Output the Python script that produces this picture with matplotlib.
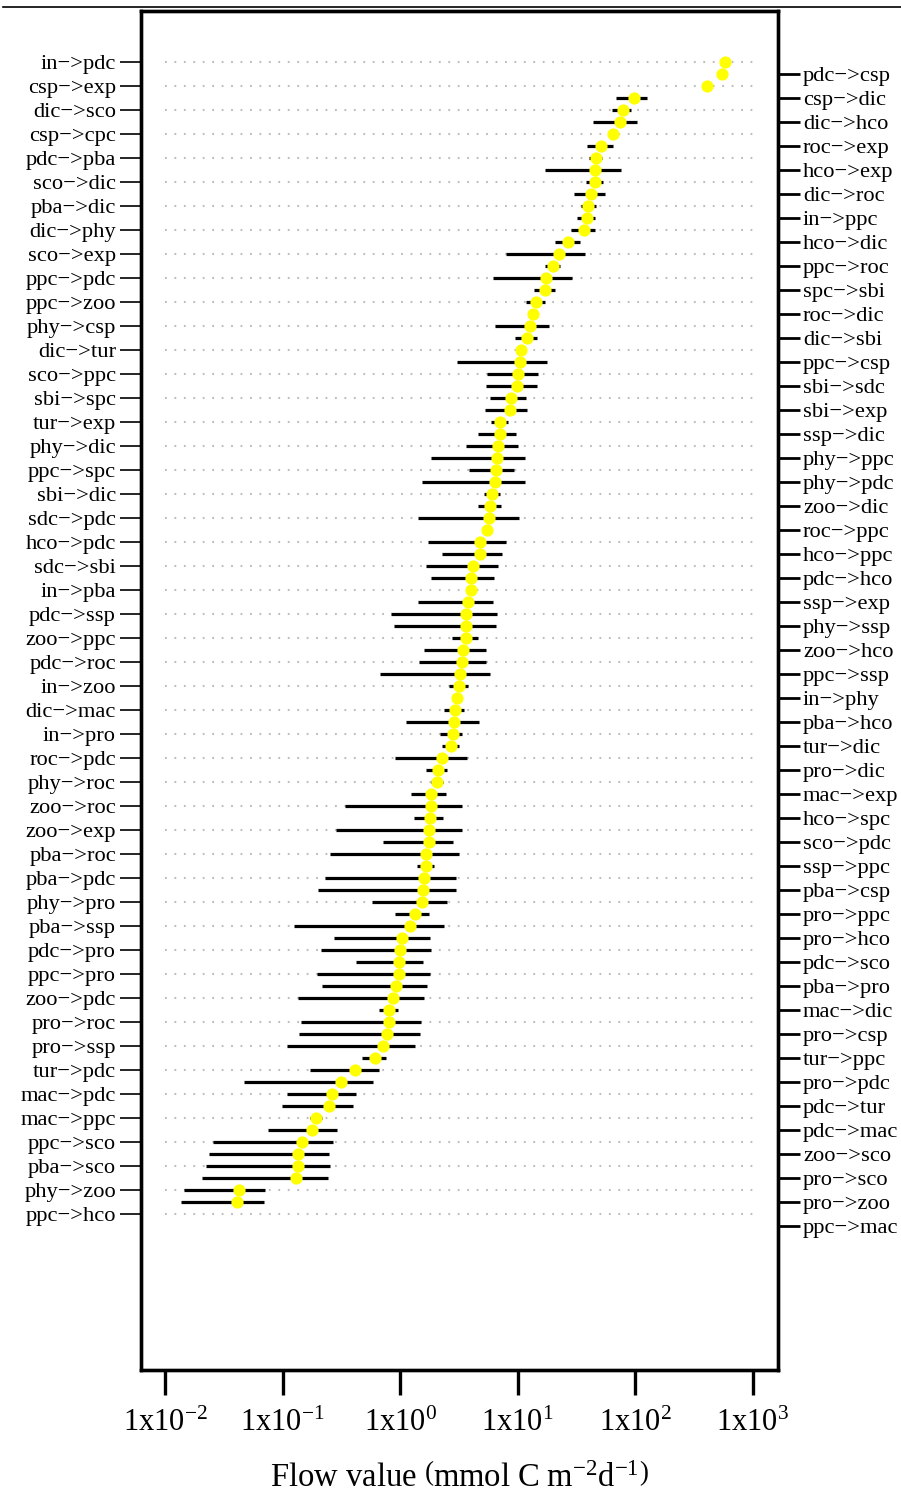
import numpy as np
import matplotlib
matplotlib.use("Agg")
import matplotlib.pyplot as plt
from matplotlib.lines import Line2D
from matplotlib.ticker import FixedLocator, FuncFormatter, NullLocator

plt.rcParams['font.family'] = ['Liberation Serif', 'DejaVu Serif']
plt.rcParams['mathtext.fontset'] = 'custom'
plt.rcParams['mathtext.rm'] = 'Liberation Serif'
plt.rcParams['mathtext.it'] = 'Liberation Serif:italic'
plt.rcParams['lines.scale_dashes'] = False

# flows in plotted order (top to bottom); even rows labelled left, odd rows right
flows = [
    "in->pdc", "pdc->csp", "csp->exp", "csp->dic", "dic->sco", "dic->hco",
    "csp->cpc", "roc->exp", "pdc->pba", "hco->exp", "sco->dic", "dic->roc",
    "pba->dic", "in->ppc", "dic->phy", "hco->dic", "sco->exp", "ppc->roc",
    "ppc->pdc", "spc->sbi", "ppc->zoo", "roc->dic", "phy->csp", "dic->sbi",
    "dic->tur", "ppc->csp", "sco->ppc", "sbi->sdc", "sbi->spc", "sbi->exp",
    "tur->exp", "ssp->dic", "phy->dic", "phy->ppc", "ppc->spc", "phy->pdc",
    "sbi->dic", "zoo->dic", "sdc->pdc", "roc->ppc", "hco->pdc", "hco->ppc",
    "sdc->sbi", "pdc->hco", "in->pba", "ssp->exp", "pdc->ssp", "phy->ssp",
    "zoo->ppc", "zoo->hco", "pdc->roc", "ppc->ssp", "in->zoo", "in->phy",
    "dic->mac", "pba->hco", "in->pro", "tur->dic", "roc->pdc", "pro->dic",
    "phy->roc", "mac->exp", "zoo->roc", "hco->spc", "zoo->exp", "sco->pdc",
    "pba->roc", "ssp->ppc", "pba->pdc", "pba->csp", "phy->pro", "pro->ppc",
    "pba->ssp", "pro->hco", "pdc->pro", "pdc->sco", "ppc->pro", "pba->pro",
    "zoo->pdc", "mac->dic", "pro->roc", "pro->csp", "pro->ssp", "tur->ppc",
    "tur->pdc", "pro->pdc", "mac->pdc", "pdc->tur", "mac->ppc", "pdc->mac",
    "ppc->sco", "zoo->sco", "pba->sco", "pro->sco", "phy->zoo", "pro->zoo",
    "ppc->hco", "ppc->mac",
]

nan = np.nan
flow_mean = [
    573, 550, 410, 97, 78, 73.4, 64, 51.3, 46, 45.4, 45, 42.3, 39.8, 38.5,
    36.6, 27, 22.5, 20, 17.3, 17.1, 14.3, 13.4, 12.6, 11.9, 10.6, 10.4, 10.1,
    9.9, 8.75, 8.55, 7.06, 7.0, 6.78, 6.62, 6.57, 6.41, 6.07, 5.83, 5.69, 5.51,
    4.81, 4.73, 4.17, 4.04, 4.0, 3.78, 3.66, 3.63, 3.6, 3.44, 3.36, 3.22, 3.17,
    3.03, 2.91, 2.88, 2.79, 2.73, 2.27, 2.08, 2.06, 1.84, 1.83, 1.8, 1.77,
    1.76, 1.66, 1.65, 1.58, 1.56, 1.52, 1.33, 1.21, 1.03, 1.0, 0.98, 0.97,
    0.93, 0.87, 0.81, 0.81, 0.78, 0.71, 0.61, 0.414, 0.313, 0.262, 0.246,
    0.192, 0.178, 0.145, 0.135, 0.135, 0.129, 0.0424, 0.041, nan, nan,
]
flow_low = [
    nan, nan, nan, 69, 63.6, 44, nan, 38.5, 40, 17, 38, 30.2, 34.4, 31.8,
    28.1, 20.6, 8.0, 17, 6.2, 13.8, 11.8, nan, 6.4, 9.4, nan, 3.07, 5.5,
    5.4, 5.8, 5.3, 5.97, 4.62, 3.6, 1.83, 3.85, 1.52, 5.17, 4.58, 1.43, nan,
    1.74, 2.25, 1.65, 1.84, nan, 1.42, 0.83, 0.88, 2.77, 1.6, 1.44, 0.67, 2.62,
    nan, 2.36, 1.11, 2.2, 2.29, 0.91, 1.66, 1.82, 1.23, 0.342, 1.31, 0.284,
    0.71, 0.252, 1.38, 0.229, 0.2, 0.574, 0.906, 0.126, 0.275, 0.213, 0.417,
    0.198, 0.218, 0.134, 0.657, 0.144, 0.138, 0.11, 0.473, 0.17, 0.0474,
    0.109, 0.0998, 0.171, 0.0755, 0.0258, 0.0235, 0.0224, 0.0205, 0.0144,
    0.0137, nan, nan,
]
flow_high = [
    nan, nan, nan, 126, 91.8, 103, nan, 64.7, 52.5, 75, 52.9, 55.5, 46, 45.4,
    45.4, 33.6, 37.2, 22.7, 28.8, 20.9, 16.9, nan, 18.5, 14.6, nan, 17.8, 14.9,
    14.5, 11.7, 12.0, 8.28, 9.57, 10.0, 11.6, 9.33, 11.6, 7.06, 7.22, 10.2, nan,
    7.96, 7.29, 6.78, 6.31, nan, 6.21, 6.67, 6.47, 4.55, 5.33, 5.42, 5.82, 3.78,
    nan, 3.49, 4.7, 3.36, 3.16, 3.69, 2.5, 2.31, 2.47, 3.36, 2.32, 3.33,
    2.84, 3.15, 1.93, 3.0, 2.98, 2.52, 1.76, 2.36, 1.81, 1.83, 1.56,
    1.8, 1.69, 1.6, 0.957, 1.51, 1.46, 1.34, 0.76, 0.662, 0.593,
    0.42, 0.397, 0.216, 0.29, 0.267, 0.25, 0.252, 0.242, 0.0703,
    0.0701, nan, nan,
]

x_ticks = [1e-2, 1e-1, 1e0, 1e1, 1e2, 1e3]

rows = np.arange(len(flows))
labels = [f.replace("->", "\u2212>") for f in flows]

fig = plt.figure(figsize=(9.01, 14.99), dpi=100)
ax = fig.add_axes([141 / 901, 1 - 1370 / 1499, 637 / 901, 1359 / 1499])

# grey dotted guide lines on the left-labelled rows
ax.hlines(rows[0::2], x_ticks[0], x_ticks[-1], colors='#bdbdbd',
          linestyles=[(0, (1.3, 5.5))], linewidth=1.5, zorder=1)

# range bars and mean points
ax.hlines(rows, flow_low, flow_high, colors='black', linewidth=2.3, zorder=2)
ax.plot(flow_mean, rows, 'o', color='#ffff00', markersize=8.8,
        markeredgewidth=0, zorder=3)

ax.set_xscale('log')
ax.set_xlim(10 ** -2.204, 10 ** 3.213)
ax.set_ylim(len(flows) - 1 + 12, -4.25)
ax.xaxis.set_major_locator(FixedLocator(x_ticks))
ax.xaxis.set_minor_locator(NullLocator())
ax.xaxis.set_major_formatter(
    FuncFormatter(lambda v, p: r"$\mathrm{1x10^{%d}}$" % round(np.log10(v))))
ax.tick_params(axis='x', length=18, width=2.4, labelsize=22, pad=10)
ax.set_xlabel(r"Flow value $\left(\mathrm{mmol\ C\ m^{-2}d^{-1}}\right)$",
              fontsize=23.5, labelpad=18)

ax.set_yticks(rows[0::2])
ax.set_yticklabels(labels[0::2])
ax.tick_params(axis='y', length=15, width=1.2, labelsize=16.2, pad=3)

ax2 = ax.twinx()
ax2.set_ylim(ax.get_ylim())
ax2.set_yticks(rows[1::2])
ax2.set_yticklabels(labels[1::2])
ax2.tick_params(axis='y', length=16, width=2.0, labelsize=16.2, pad=2)

for a in (ax, ax2):
    for s in a.spines.values():
        s.set_linewidth(2.4)

# thin rule along the top of the page
fig.add_artist(Line2D([3 / 901, 1.0], [1 - 7 / 1499] * 2, color='black',
                      linewidth=1.2))

fig.savefig("out.png", dpi=100)
